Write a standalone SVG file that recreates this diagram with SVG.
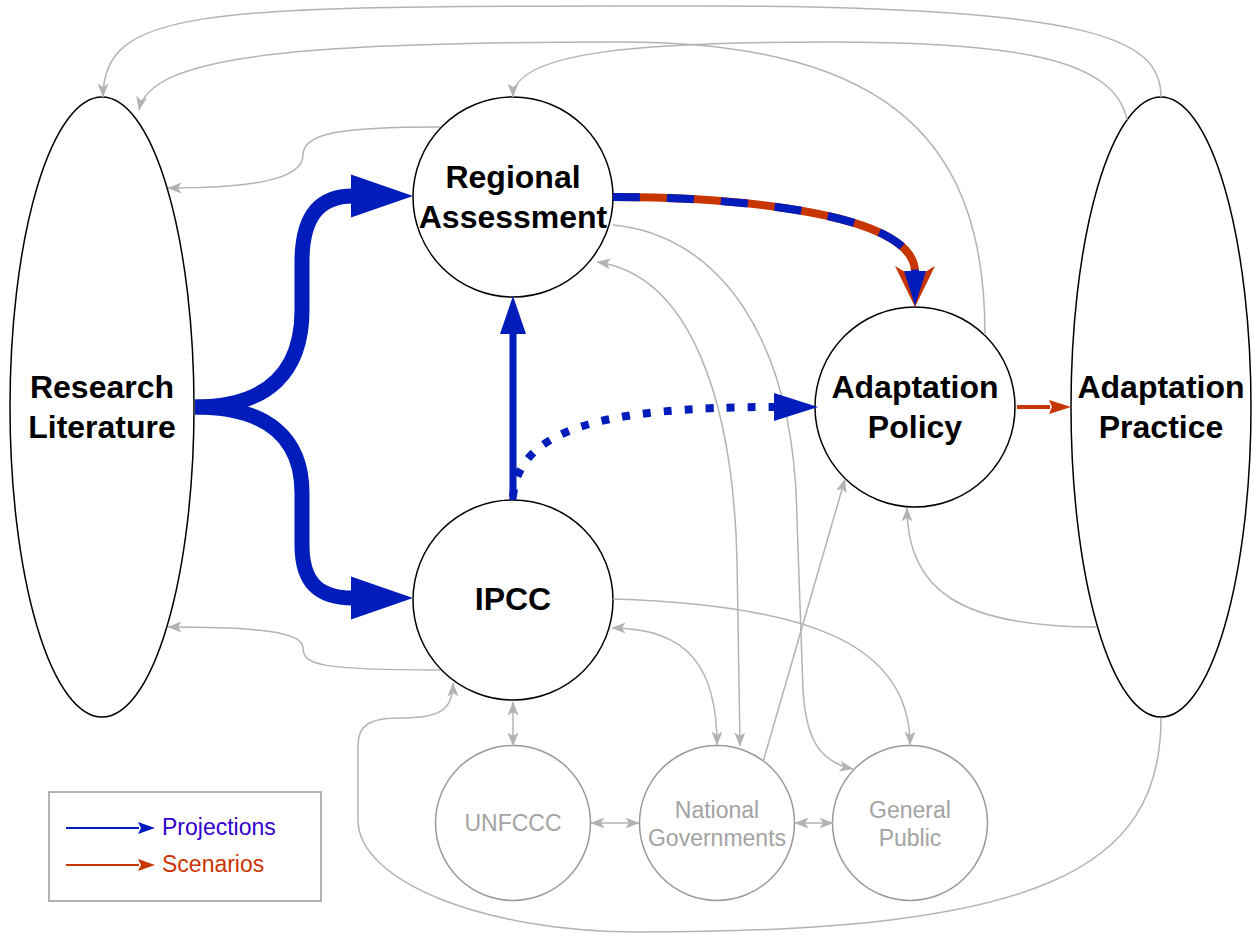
<svg xmlns="http://www.w3.org/2000/svg" width="1253" height="936" viewBox="0 0 1253 936">
<style>
.main{fill:#fff;stroke:#000;stroke-width:1.5}
.minor{fill:#fff;stroke:#999;stroke-width:1.5}
.lbl{font-family:"Liberation Sans",Arial,sans-serif;font-weight:bold;font-size:32px;fill:#000;text-anchor:middle}
.mlbl{font-family:"Liberation Sans",Arial,sans-serif;font-size:23px;fill:#a3a3a3;text-anchor:middle}
.g{fill:none;stroke:#b3b3b3;stroke-width:1.5}
.leg{font-family:"Liberation Sans",Arial,sans-serif;font-size:23px}
</style>
<defs>
<marker id="mGray" markerUnits="userSpaceOnUse" markerWidth="14" markerHeight="12" viewBox="0 0 14 12" refX="13.5" refY="6" orient="auto-start-reverse"><path d="M0,0.5 L14,6 L0,11.5 L3.5,6 Z" fill="#b3b3b3"/></marker>
<marker id="mBlueL" markerUnits="userSpaceOnUse" markerWidth="62" markerHeight="44" viewBox="0 0 62 44" refX="2" refY="22" orient="auto"><path d="M0,0.5 L62,22 L0,43.5 Z" fill="#001DBC"/></marker>
<marker id="mBlueM" markerUnits="userSpaceOnUse" markerWidth="38" markerHeight="26" viewBox="0 0 38 26" refX="1" refY="13" orient="auto"><path d="M0,0 L38,13 L0,26 Z" fill="#001DBC"/></marker>
<marker id="mBlueD" markerUnits="userSpaceOnUse" markerWidth="44" markerHeight="28" viewBox="0 0 44 28" refX="1" refY="14" orient="auto"><path d="M0,0 L44,14 L0,28 Z" fill="#001DBC"/></marker>
<marker id="mBlueS" markerUnits="userSpaceOnUse" markerWidth="35" markerHeight="22" viewBox="0 0 35 22" refX="1" refY="11" orient="auto"><path d="M0,0 L35,11 L0,22 Z" fill="#001DBC"/></marker>
<marker id="mRedC" markerUnits="userSpaceOnUse" markerWidth="41" markerHeight="40" viewBox="0 0 41 40" refX="6" refY="20" orient="auto"><path d="M0,0 L41,20 L0,40 L12,20 Z" fill="#C73500"/></marker>
<marker id="mRedS" markerUnits="userSpaceOnUse" markerWidth="22" markerHeight="14" viewBox="0 0 22 14" refX="1" refY="7" orient="auto"><path d="M0,0 L22,7 L0,14 L3,7 Z" fill="#C73500"/></marker>
<marker id="mLegB" markerUnits="userSpaceOnUse" markerWidth="17" markerHeight="12" viewBox="0 0 17 12" refX="1" refY="6" orient="auto"><path d="M0,0 L17,6 L0,12 L3,6 Z" fill="#001DBC"/></marker>
<marker id="mLegR" markerUnits="userSpaceOnUse" markerWidth="17" markerHeight="12" viewBox="0 0 17 12" refX="1" refY="6" orient="auto"><path d="M0,0 L17,6 L0,12 L3,6 Z" fill="#C73500"/></marker>
</defs>
<rect width="1253" height="936" fill="#fff"/>

<g id="research-literature"><ellipse class="main" cx="102" cy="407" rx="92" ry="310"/><text class="lbl" x="102" y="398">Research</text><text class="lbl" x="102" y="438">Literature</text></g>
<g id="regional-assessment"><circle class="main" cx="513" cy="197" r="100"/><text class="lbl" x="513" y="188">Regional</text><text class="lbl" x="513" y="228">Assessment</text></g>
<g id="ipcc"><circle class="main" cx="513" cy="600" r="100"/><text class="lbl" x="513" y="610">IPCC</text></g>
<g id="adaptation-policy"><circle class="main" cx="915" cy="407" r="100"/><text class="lbl" x="915" y="398">Adaptation</text><text class="lbl" x="915" y="438">Policy</text></g>
<g id="adaptation-practice"><ellipse class="main" cx="1161" cy="407" rx="90" ry="310"/><text class="lbl" x="1161" y="398">Adaptation</text><text class="lbl" x="1161" y="438">Practice</text></g>
<g id="unfccc"><circle class="minor" cx="513" cy="823" r="77.5"/><text class="mlbl" x="513" y="831">UNFCCC</text></g>
<g id="national-governments"><circle class="minor" cx="717" cy="823" r="77.5"/><text class="mlbl" x="717" y="818">National</text><text class="mlbl" x="717" y="846">Governments</text></g>
<g id="general-public"><circle class="minor" cx="910" cy="823" r="77.5"/><text class="mlbl" x="910" y="818">General</text><text class="mlbl" x="910" y="846">Public</text></g>

<g id="connectors">
<path class="g" d="M1161,97 C1161,40 1100,6 700,6 L620,6 C200,6 103,10 103,97" marker-end="url(#mGray)"/>
<path class="g" d="M985,335 C985,150 900,42 620,42 C300,42 150,55 139,110" marker-end="url(#mGray)"/>
<path class="g" d="M1127,120 C1115,60 1020,42 830,42 C650,42 513,50 513,97" marker-end="url(#mGray)"/>
<path class="g" d="M440,127 C340,127 303,133 303,155 C303,180 250,188 168,188" marker-end="url(#mGray)"/>
<path class="g" d="M440,670 C320,670 303,665 303,648 C303,632 260,627 168,627" marker-end="url(#mGray)"/>
<path class="g" d="M1161,718 C1161,870 1040,932 640,932 C480,932 358,880 358,820 L358,745 C358,725 370,718 400,718 C440,718 453,710 453,683" marker-end="url(#mGray)"/>
<path class="g" d="M513,702 L513,746" marker-start="url(#mGray)" marker-end="url(#mGray)"/>
<path class="g" d="M612,628 C690,628 717,670 717,745" marker-start="url(#mGray)" marker-end="url(#mGray)"/>
<path class="g" d="M597,262 C690,275 733,400 737,560 L740,746" marker-start="url(#mGray)" marker-end="url(#mGray)"/>
<path class="g" d="M613,225 C720,235 795,340 797,520 L803,690 C806,740 820,762 853,769" marker-end="url(#mGray)"/>
<path class="g" d="M613,599 C800,605 910,640 910,745" marker-end="url(#mGray)"/>
<path class="g" d="M763,762 L845,479" marker-end="url(#mGray)"/>
<path class="g" d="M591,823 L639,823" marker-start="url(#mGray)" marker-end="url(#mGray)"/>
<path class="g" d="M795,823 L833,823" marker-start="url(#mGray)" marker-end="url(#mGray)"/>
<path class="g" d="M1097,627 C960,627 907,590 907,508" marker-end="url(#mGray)"/>

<path d="M195,407 C270,407 302,370 302,310 L302,262 C302,218 318,196 353,196" fill="none" stroke="#001DBC" stroke-width="15" marker-end="url(#mBlueL)"/>
<path d="M195,407 C270,407 302,440 302,493 L302,545 C302,582 318,598 353,598" fill="none" stroke="#001DBC" stroke-width="15" marker-end="url(#mBlueL)"/>
<path d="M513,500 L513,333" fill="none" stroke="#001DBC" stroke-width="7" marker-end="url(#mBlueM)"/>
<path d="M513,497 C518,430 600,407 775,407" fill="none" stroke="#001DBC" stroke-width="8" stroke-dasharray="8 13" marker-end="url(#mBlueD)"/>
<path d="M613,197 C720,197 915,210 915,272" fill="none" stroke="#C73500" stroke-width="8" marker-end="url(#mRedC)"/>
<path d="M613,197 C720,197 915,210 915,272" fill="none" stroke="#001DBC" stroke-width="8" stroke-dasharray="27 27" marker-end="url(#mBlueS)"/>
<path d="M1017,407 L1050,407" fill="none" stroke="#C73500" stroke-width="4" marker-end="url(#mRedS)"/>
</g>

<g id="legend">
<rect x="49" y="792" width="272" height="109" fill="#fff" stroke="#999" stroke-width="1.5"/>
<path d="M66,828 L139,828" stroke="#001DBC" stroke-width="2" marker-end="url(#mLegB)"/>
<path d="M66,865 L139,865" stroke="#C73500" stroke-width="2" marker-end="url(#mLegR)"/>
<text class="leg" x="162" y="835" fill="#3300CC">Projections</text>
<text class="leg" x="162" y="872" fill="#CC3300">Scenarios</text>
</g>
</svg>
